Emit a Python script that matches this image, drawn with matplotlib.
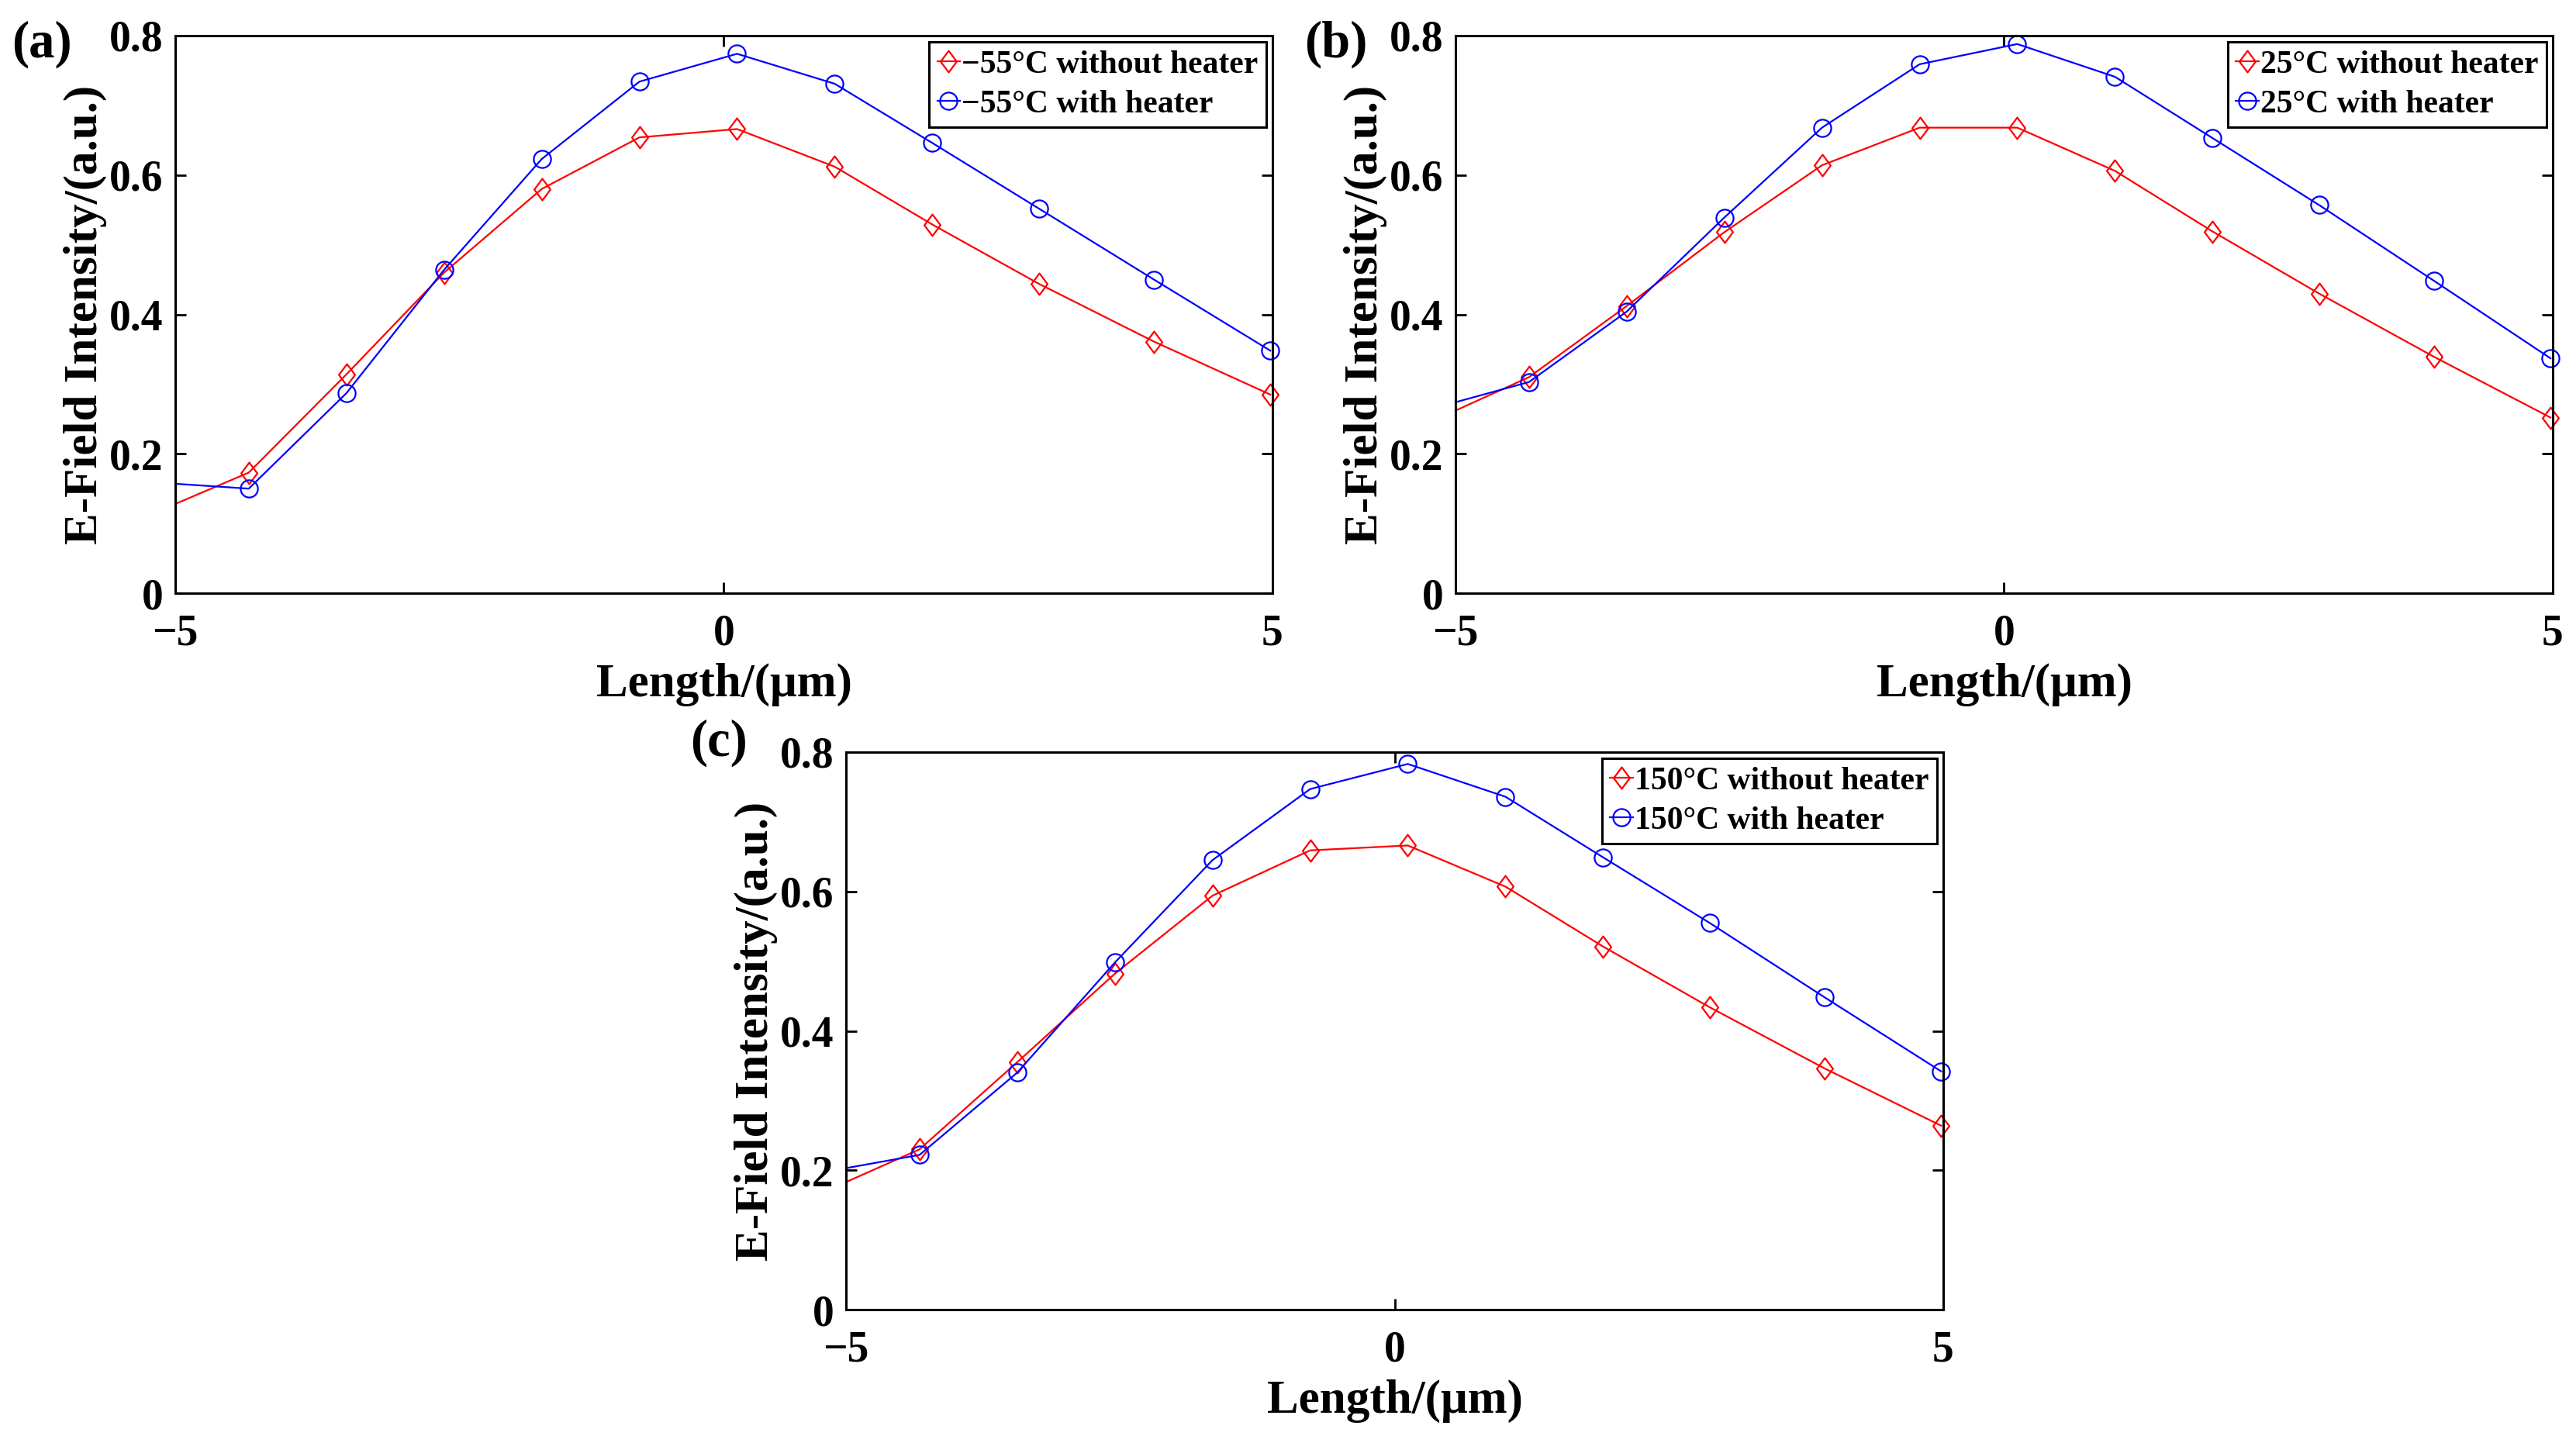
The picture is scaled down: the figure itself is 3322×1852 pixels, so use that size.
import matplotlib.pyplot as plt
from matplotlib.path import Path

plt.rcParams['font.family'] = ['Liberation Serif', 'DejaVu Serif']
plt.rcParams['font.weight'] = 'bold'

# positions along the line (um), shared by all three panels
length = [-5, -4.33, -3.44, -2.55, -1.66, -0.77, 0.12, 1.01, 1.90, 2.87, 3.92, 4.98]

# (a) -55 C
a_without = [0.128, 0.173, 0.314, 0.460, 0.580, 0.654, 0.666, 0.612, 0.529, 0.444, 0.361, 0.285]
a_with = [0.157, 0.150, 0.287, 0.464, 0.623, 0.734, 0.774, 0.731, 0.646, 0.552, 0.450, 0.348]
# (b) 25 C
b_without = [0.262, 0.310, 0.412, 0.518, 0.614, 0.668, 0.668, 0.606, 0.519, 0.430, 0.339, 0.252]
b_with = [0.274, 0.303, 0.404, 0.539, 0.668, 0.759, 0.788, 0.741, 0.653, 0.557, 0.448, 0.337]
# (c) 150 C
c_without = [0.183, 0.230, 0.355, 0.482, 0.594, 0.659, 0.666, 0.607, 0.521, 0.434, 0.346, 0.264]
c_with = [0.203, 0.222, 0.340, 0.498, 0.645, 0.747, 0.783, 0.736, 0.649, 0.555, 0.448, 0.342]

temps = ['\u221255', '25', '150']
panel_names = ['(a)', '(b)', '(c)']
xticks = [-5, 0, 5]
yticks = [0, 0.2, 0.4, 0.6, 0.8]
ytick_labels = ['0', '0.2', '0.4', '0.6', '0.8']

# matlab-like diamond, taller than wide
diamond = Path([(0, 1), (0.75, 0), (0, -1), (-0.75, 0), (0, 1)],
               [Path.MOVETO, Path.LINETO, Path.LINETO, Path.LINETO, Path.CLOSEPOLY])

W, H = 3323, 1852
fig = plt.figure(figsize=(W / 100, H / 100), dpi=100)

rects = [
    [226 / W, (H - 765) / H, 1415 / W, 719 / H],
    [1877 / W, (H - 765) / H, 1415 / W, 719 / H],
    [1091 / W, (H - 1689) / H, 1415 / W, 719 / H],
]
label_pos = [(15, 74), (1682, 74), (890, 975)]
data = [(a_without, a_with), (b_without, b_with), (c_without, c_with)]

for rect, (red, blue), t, name, lp in zip(rects, data, temps, panel_names, label_pos):
    ax = fig.add_axes(rect)
    ax.plot(length, red, color='red', lw=1.6, marker=diamond, ms=20, mfc='none',
            mec='red', mew=1.6, markevery=slice(1, None), clip_on=False,
            label=t + '\u00b0C without heater')
    ax.plot(length, blue, color='blue', lw=1.6, marker='o', ms=16, mfc='none',
            mec='blue', mew=1.6, markevery=slice(1, None), clip_on=False,
            label=t + '\u00b0C with heater')
    ax.set_xlim(-5, 5)
    ax.set_ylim(0, 0.8)
    ax.set_xticks(xticks)
    ax.set_yticks(yticks)
    ax.set_yticklabels(ytick_labels)
    ax.tick_params(direction='in', top=True, right=True, length=10, width=2,
                   labelsize=40)
    ax.tick_params(axis='x', pad=19)
    ax.tick_params(axis='y', pad=11)
    for s in ax.spines.values():
        s.set_linewidth(2.2)
    ax.set_xlabel('Length/(\u03bcm)', fontsize=44, fontweight='bold', labelpad=8)
    ax.set_ylabel('E-Field Intensity/(a.u.)', fontsize=44, fontweight='bold', labelpad=2)
    leg = ax.legend(loc='upper right', fontsize=30, fancybox=False, edgecolor='black',
                    framealpha=1, handlelength=0.7, handletextpad=0.05,
                    borderaxespad=0.2, borderpad=0.25, labelspacing=0.3)
    leg.get_frame().set_linewidth(2.2)
    fig.text(lp[0] / W, 1 - lp[1] / H, name, fontsize=48, fontweight='bold',
             va='baseline', ha='left')

fig.savefig('out.png', dpi=100)
